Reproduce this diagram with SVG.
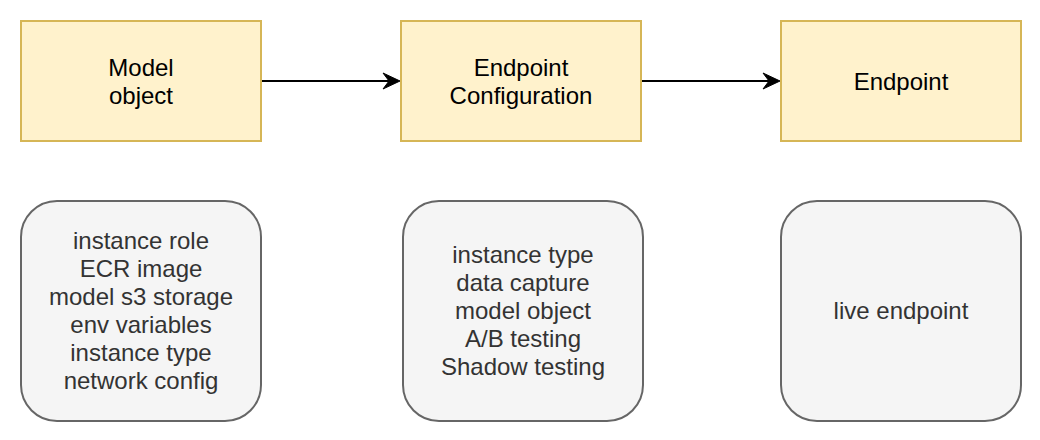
<svg xmlns="http://www.w3.org/2000/svg" width="1040" height="440" viewBox="0 0 1040 440">
<style>
.top{fill:#fff2cc;stroke:#d6b656;stroke-width:2}
.bot{fill:#f5f5f5;stroke:#666666;stroke-width:2}
text{font-family:"Liberation Sans",Arial,Helvetica,sans-serif;font-size:24px;text-anchor:middle}
.tt{fill:#000000}
.bt{fill:#333333}
.edge{stroke:#000000;stroke-width:2;fill:none}
.head{fill:#000000;stroke:#000000;stroke-width:1}
</style>
<rect x="0" y="0" width="1040" height="440" fill="#ffffff"/>
<g id="connectors">
<line class="edge" x1="261" y1="81" x2="390" y2="81"/>
<path class="head" d="M400,81 L383,73 L389,81 L383,89 Z"/>
<line class="edge" x1="641" y1="81" x2="770" y2="81"/>
<path class="head" d="M780,81 L763,73 L769,81 L763,89 Z"/>
</g>
<g id="model-object">
<rect class="top" x="21" y="21" width="240" height="120"/>
<text class="tt" x="141" y="76">Model</text>
<text class="tt" x="141" y="104">object</text>
</g>
<g id="endpoint-configuration">
<rect class="top" x="401" y="21" width="240" height="120"/>
<text class="tt" x="521" y="76">Endpoint</text>
<text class="tt" x="521" y="104">Configuration</text>
</g>
<g id="endpoint">
<rect class="top" x="781" y="21" width="240" height="120"/>
<text class="tt" x="901" y="90">Endpoint</text>
</g>
<g id="model-details">
<rect class="bot" x="21" y="201" width="240" height="220" rx="36" ry="36"/>
<text class="bt" x="141" y="249">instance role</text>
<text class="bt" x="141" y="277">ECR image</text>
<text class="bt" x="141" y="305">model s3 storage</text>
<text class="bt" x="141" y="333">env variables</text>
<text class="bt" x="141" y="361">instance type</text>
<text class="bt" x="141" y="389">network config</text>
</g>
<g id="config-details">
<rect class="bot" x="403" y="201" width="240" height="220" rx="36" ry="36"/>
<text class="bt" x="523" y="263">instance type</text>
<text class="bt" x="523" y="291">data capture</text>
<text class="bt" x="523" y="319">model object</text>
<text class="bt" x="523" y="347">A/B testing</text>
<text class="bt" x="523" y="375">Shadow testing</text>
</g>
<g id="endpoint-details">
<rect class="bot" x="781" y="201" width="240" height="220" rx="36" ry="36"/>
<text class="bt" x="901" y="319">live endpoint</text>
</g>
</svg>
